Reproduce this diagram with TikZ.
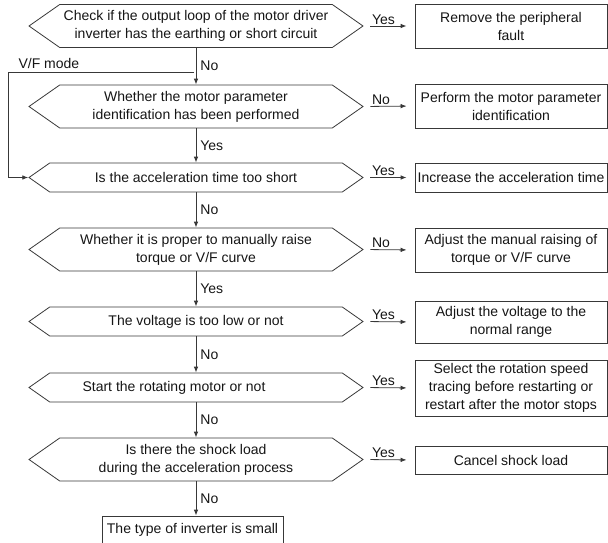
\documentclass[tikz,border=0pt]{standalone}
\usepackage{fontspec}
\setmainfont{Liberation Sans}
\usetikzlibrary{arrows.meta,shapes.symbols}
\definecolor{Ink}{HTML}{383838}
\definecolor{Txt}{HTML}{151515}

\tikzset{
  decision/.style={draw=Ink,line width=0.6pt,shape=signal,signal to=east and west,
    signal pointer angle=70,minimum width=250.5pt,inner sep=0pt,align=center},
  action/.style={draw=Ink,line width=0.6pt,minimum width=144pt,inner sep=0pt,align=center},
  flow/.style={draw=Ink,line width=0.6pt,-{Latex[length=4.5pt,width=3.4pt]}},
  sidelabel/.style={anchor=south west,xshift=5pt,inner sep=1pt},
  downlabel/.style={right,inner sep=3pt}
}

\begin{document}
\begin{tikzpicture}[x=0.75pt,y=-0.75pt,every node/.style={font=\fontsize{10.5}{13.5}\selectfont,text=Txt}]
    \useasboundingbox (0,0) rectangle (608,543);

    % decisions down the middle
    \node[decision,minimum height=32.25pt] (earth) at (196,26)
      {Check if the output loop of the motor driver\\inverter has the earthing or short circuit};
    \node[decision,minimum height=32.25pt] (ident) at (196,106.5)
      {Whether the motor parameter\\identification has been performed};
    \node[decision,minimum height=21.75pt] (acct) at (196,177.5)
      {Is the acceleration time too short};
    \node[decision,minimum height=32.25pt] (boost) at (196,249.5)
      {Whether it is proper to manually raise\\torque or V/F curve};
    \node[decision,minimum height=21.75pt] (volt) at (196,321.5)
      {The voltage is too low or not};
    \node[decision,minimum height=21.75pt] (rotate) at (196,387.5)
      {Start the rotating motor or not\hspace*{33pt}};
    \node[decision,minimum height=32.25pt] (shock) at (196,459.5)
      {Is there the shock load\\during the acceleration process};
    \node[action,minimum width=135.75pt,minimum height=21pt] (small) at (192.5,530)
      {The type of inverter is small};

    % remedies on the right
    \node[action,minimum height=33pt] (fault) at (511,26) {Remove the peripheral\\fault};
    \node[action,minimum height=33pt] (tune) at (511,106) {Perform the motor parameter\\identification};
    \node[action,minimum height=21.75pt] (longer) at (511,177.5) {Increase the acceleration time};
    \node[action,minimum height=33pt] (raise) at (511,250) {Adjust the manual raising of\\torque or V/F curve};
    \node[action,minimum height=31.5pt] (range) at (511,322) {Adjust the voltage to the\\normal range};
    \node[action,minimum height=42pt] (trace) at (511,388)
      {Select the rotation speed\\tracing before restarting or\\restart after the motor stops};
    \node[action,minimum height=21pt] (cancel) at (511,460) {Cancel shock load};

    % main chain
    \draw[flow] (earth.south) -- node[downlabel] {No} (ident.north);
    \draw[flow] (ident.south) -- node[downlabel] {Yes} (acct.north);
    \draw[flow] (acct.south) -- node[downlabel] {No} (boost.north);
    \draw[flow] (boost.south) -- node[downlabel] {Yes} (volt.north);
    \draw[flow] (volt.south) -- node[downlabel] {No} (rotate.north);
    \draw[flow] (rotate.south) -- node[downlabel] {No} (shock.north);
    \draw[flow] (shock.south) -- node[downlabel] {No} (small.north -| shock.south);

    % branches
    \foreach \from/\to/\ans in {earth/fault/Yes,ident/tune/No,acct/longer/Yes,boost/raise/No,
                                volt/range/Yes,rotate/trace/Yes,shock/cancel/Yes} {
      \draw[flow,shorten <=5pt,shorten >=6pt] (\from.east) -- node[sidelabel,pos=0] {\ans} (\to.west);
    }

    % V/F mode bypass
    \coordinate (vfstart) at (194,72);
    \coordinate (vfleft) at (8,72);
    \draw[flow] (vfstart) -- node[above,pos=0.78,inner sep=2pt] {V/F mode} (vfleft) |- (acct.west);
\end{tikzpicture}
\end{document}
